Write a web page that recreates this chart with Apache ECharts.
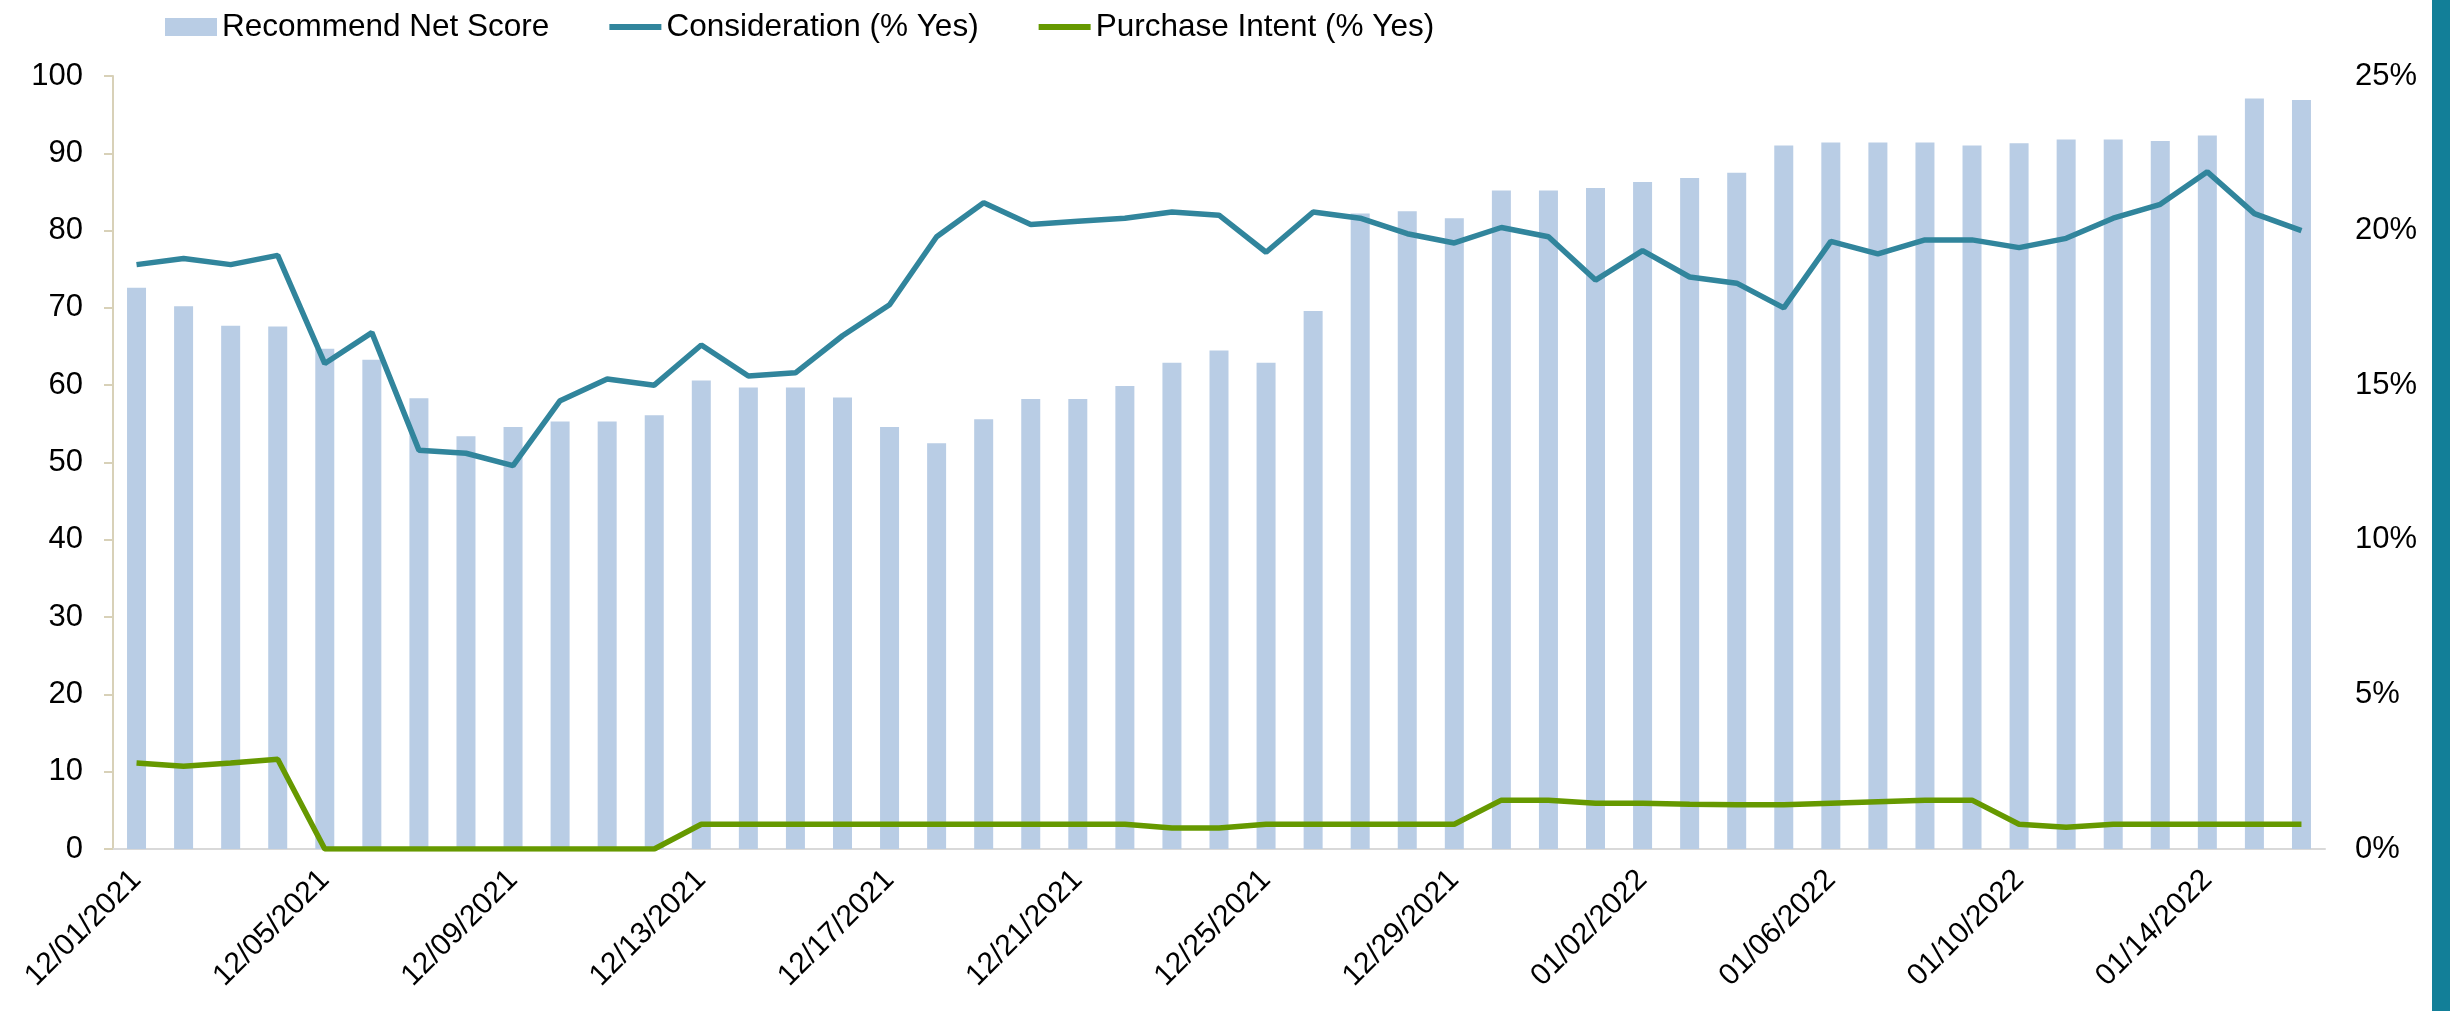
<!DOCTYPE html>
<html>
<head>
    <meta charset="utf-8">
    <title>Recommend / Consideration / Purchase Intent</title>
    <script src="https://cdn.jsdelivr.net/npm/echarts@6/dist/echarts.min.js"></script>
    <style>
        html, body { margin: 0; padding: 0; background: #fff; }
    </style>
</head>
<body>
    <div id="main" style="width:2450px;height:1011px;"></div>
    <script type="text/javascript">
        // dates (one survey point per day)
        var dates = [
            '12/01/2021', '12/02/2021', '12/03/2021', '12/04/2021', '12/05/2021', '12/06/2021',
            '12/07/2021', '12/08/2021', '12/09/2021', '12/10/2021', '12/11/2021', '12/12/2021',
            '12/13/2021', '12/14/2021', '12/15/2021', '12/16/2021', '12/17/2021', '12/18/2021',
            '12/19/2021', '12/20/2021', '12/21/2021', '12/22/2021', '12/23/2021', '12/24/2021',
            '12/25/2021', '12/26/2021', '12/27/2021', '12/28/2021', '12/29/2021', '12/30/2021',
            '12/31/2021', '01/01/2022', '01/02/2022', '01/03/2022', '01/04/2022', '01/05/2022',
            '01/06/2022', '01/07/2022', '01/08/2022', '01/09/2022', '01/10/2022', '01/11/2022',
            '01/12/2022', '01/13/2022', '01/14/2022', '01/15/2022', '01/16/2022'
        ];

        // left axis
        var recommendNet = [
            72.6, 70.2, 67.7, 67.6, 64.7, 63.3, 58.3, 53.4, 54.6, 55.3, 55.3, 56.1,
            60.6, 59.7, 59.7, 58.4, 54.6, 52.5, 55.6, 58.2, 58.2, 59.9, 62.9, 64.5,
            62.9, 69.6, 82.2, 82.5, 81.6, 85.2, 85.2, 85.5, 86.3, 86.8, 87.5, 91.0,
            91.4, 91.4, 91.4, 91.0, 91.3, 91.8, 91.8, 91.6, 92.3, 97.1, 96.9
        ];

        // right axis, %
        var consideration = [
            18.9, 19.1, 18.9, 19.2, 15.7, 16.7, 12.9, 12.8, 12.4, 14.5, 15.2, 15.0,
            16.3, 15.3, 15.4, 16.6, 17.6, 19.8, 20.9, 20.2, 20.3, 20.4, 20.6, 20.5,
            19.3, 20.6, 20.4, 19.9, 19.6, 20.1, 19.8, 18.4, 19.35, 18.5, 18.3, 17.5,
            19.65, 19.25, 19.7, 19.7, 19.45, 19.75, 20.4, 20.85, 21.9, 20.55, 20.0
        ];
        var purchaseIntent = [
            2.78, 2.68, 2.78, 2.9, 0, 0, 0, 0, 0, 0, 0, 0,
            0.8, 0.8, 0.8, 0.8, 0.8, 0.8, 0.8, 0.8, 0.8, 0.8, 0.68, 0.68,
            0.8, 0.8, 0.8, 0.8, 0.8, 1.58, 1.58, 1.48, 1.48, 1.45, 1.43, 1.43,
            1.48, 1.53, 1.58, 1.58, 0.8, 0.7, 0.8, 0.8, 0.8, 0.8, 0.8
        ];

        var leftTicks = { min: 0, max: 100, interval: 10 };
        var rightTicks = { min: 0, max: 25, interval: 5 };

        var fontFam = "'Liberation Sans', Arial, sans-serif";
        // thick flat line used as legend marker for the two line series
        var lineIcon = 'path://M0,0 L52,0 L52,6 L0,6 Z';

        var myChart = echarts.init(document.getElementById('main'));

        var option = {
            backgroundColor: '#ffffff',
            animation: false,
            textStyle: { fontFamily: fontFam, color: '#000' },
            legend: {
                left: 160,
                top: 6,
                itemWidth: 52,
                itemHeight: 18,
                itemGap: 60,
                textStyle: { fontSize: 31.5, color: '#000', fontFamily: fontFam },
                data: [
                    { name: 'Recommend Net Score', icon: 'rect' },
                    { name: 'Consideration (% Yes)', icon: lineIcon },
                    { name: 'Purchase Intent (% Yes)', icon: lineIcon }
                ]
            },
            grid: {
                left: 113,
                right: 125,
                top: 76,
                bottom: 162,
                containLabel: false
            },
            xAxis: {
                type: 'category',
                data: dates,
                boundaryGap: true,
                axisLine: { lineStyle: { color: '#d9d9d9', width: 2 } },
                axisTick: { show: false },
                axisLabel: {
                    interval: 3,
                    rotate: 45,
                    margin: 26,
                    fontSize: 30,
                    color: '#000',
                    fontFamily: fontFam
                }
            },
            yAxis: [
                {
                    type: 'value',
                    min: leftTicks.min,
                    max: leftTicks.max,
                    interval: leftTicks.interval,
                    axisLine: { show: true, lineStyle: { color: '#d8d1b8', width: 2 } },
                    axisTick: { show: true, inside: false, length: 9, lineStyle: { color: '#d8d1b8', width: 2 } },
                    splitLine: { show: false },
                    axisLabel: { fontSize: 31, color: '#000', margin: 30, fontFamily: fontFam }
                },
                {
                    type: 'value',
                    min: rightTicks.min,
                    max: rightTicks.max,
                    interval: rightTicks.interval,
                    axisLine: { show: false },
                    axisTick: { show: false },
                    splitLine: { show: false },
                    axisLabel: {
                        fontSize: 31, color: '#000', margin: 30, fontFamily: fontFam,
                        formatter: '{value}%'
                    }
                }
            ],
            series: [
                {
                    name: 'Recommend Net Score',
                    type: 'bar',
                    yAxisIndex: 0,
                    barWidth: 19,
                    data: recommendNet,
                    itemStyle: { color: '#b9cde5' },
                    z: 1
                },
                {
                    name: 'Consideration (% Yes)',
                    type: 'line',
                    yAxisIndex: 1,
                    data: consideration,
                    symbol: 'none',
                    lineStyle: { color: '#31859c', width: 5.5 },
                    itemStyle: { color: '#31859c' },
                    z: 3
                },
                {
                    name: 'Purchase Intent (% Yes)',
                    type: 'line',
                    yAxisIndex: 1,
                    data: purchaseIntent,
                    symbol: 'none',
                    lineStyle: { color: '#669900', width: 5.5 },
                    itemStyle: { color: '#669900' },
                    z: 3
                }
            ],
            graphic: [
                {
                    type: 'rect',
                    right: 0,
                    top: 0,
                    shape: { width: 18, height: 1011 },
                    style: { fill: '#127f98' },
                    silent: true
                }
            ]
        };

        myChart.setOption(option);
    </script>
</body>
</html>
